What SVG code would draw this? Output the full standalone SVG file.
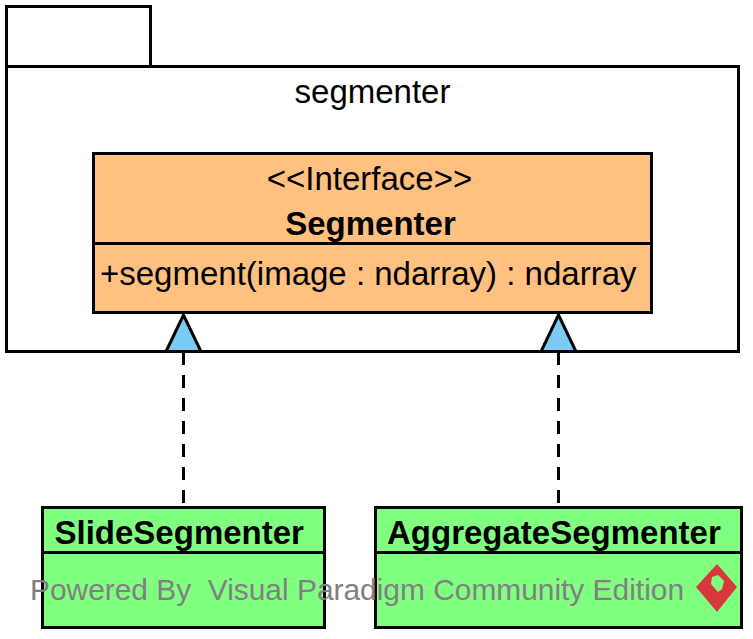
<svg xmlns="http://www.w3.org/2000/svg" width="753" height="639" viewBox="0 0 753 639">
<style>
text{font-family:"Liberation Sans",Arial,sans-serif;font-size:33px;fill:#000}
.b{font-weight:bold}
.s{fill:none;stroke:#000;stroke-width:3}
.iface{fill:#ffc080;stroke:#000;stroke-width:3}
.cls{fill:#80ff80;stroke:#000;stroke-width:3}
.pkg{fill:#fff;stroke:#000;stroke-width:3}
.dash{fill:none;stroke:#000;stroke-width:3;stroke-dasharray:13 10}
.tri{fill:#7accf5;stroke:#000;stroke-width:3;stroke-linejoin:miter}
.wm{fill:#808080;font-size:29.900px;white-space:pre}
</style>
<g id="pkg-segmenter">
<rect class="pkg" x="6.500" y="6.500" width="144" height="60"/>
<rect class="pkg" x="6.500" y="66.500" width="732" height="285"/>
<text x="372.500" y="102.500" text-anchor="middle">segmenter</text>
</g>
<g id="node-Segmenter">
<rect class="iface" x="93.500" y="153.500" width="558" height="159"/>
<line class="s" x1="93" y1="243.500" x2="652" y2="243.500"/>
<text x="369.500" y="189.500" text-anchor="middle">&lt;&lt;Interface&gt;&gt;</text>
<text class="b" x="370.500" y="234.500" text-anchor="middle">Segmenter</text>
<text x="100" y="285">+segment(image : ndarray) : ndarray</text>
</g>
<g id="node-SlideSegmenter">
<rect class="cls" x="42.500" y="507.500" width="282" height="120"/>
<line class="s" x1="42" y1="552.500" x2="325" y2="552.500"/>
<text class="b" x="54.500" y="544">SlideSegmenter</text>
</g>
<g id="node-AggregateSegmenter">
<rect class="cls" x="375.500" y="507.500" width="366" height="120"/>
<line class="s" x1="375" y1="552.500" x2="742" y2="552.500"/>
<text class="b" x="387" y="544">AggregateSegmenter</text>
</g>
<g id="connectors">
<line class="dash" x1="183.500" y1="352" x2="183.500" y2="505"/>
<line class="dash" x1="558.500" y1="352" x2="558.500" y2="505"/>
<polygon class="tri" points="183.500,315 166,351.500 201,351.500"/>
<polygon class="tri" points="558.500,315 541,351.500 576,351.500"/>
</g>
<g id="watermark">
<text class="wm" x="30" y="600">Powered By  Visual Paradigm Community Edition</text>
<path d="M717 564 L737 587 L717 612 L696 587 Z" fill="#d8383c"/>
<path d="M712 577 L718 575 L724 581 L722 589 L718 592 L711 584 Z" fill="#80ff80"/>
</g>
</svg>
